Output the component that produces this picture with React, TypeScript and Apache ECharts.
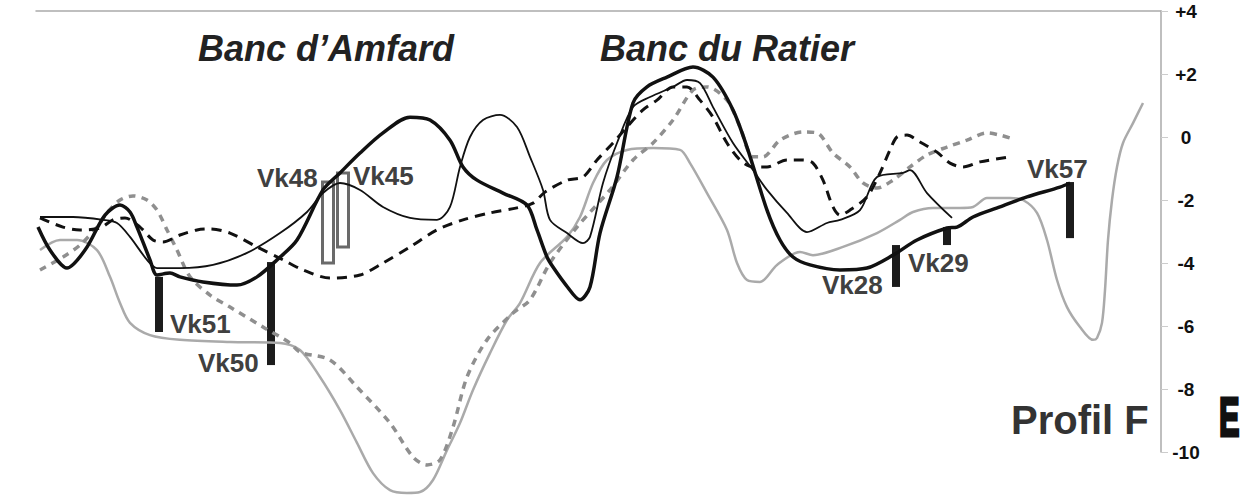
import React, { useEffect, useRef } from "react";
import * as echarts from "echarts";

// Distance along profile (arbitrary units, 0..1125) and elevation (m)
const thickBlack: [number, number][] = [
  [2, -2.86], [14, -3.59], [31, -4.16], [49, -3.59], [69, -2.48], [84, -2.16], [94, -2.38], [101, -2.86],
  [114, -3.9], [121, -4.38], [134, -4.32], [144, -4.44], [167, -4.6], [201, -4.7], [221, -4.44], [241, -3.9],
  [261, -3.27], [287, -1.68], [304, -1.14], [324, -0.51], [347, 0.13], [374, 0.63], [394, 0.54], [414, -0.1],
  [427, -0.95], [441, -1.37], [467, -1.78], [491, -2.16], [501, -2.95], [511, -3.81], [517, -4.13], [530, -4.7],
  [544, -5.17], [554, -4.76], [564, -3.05], [581, -1.27], [597, 1.08], [611, 1.59], [631, 1.9], [657, 2.22],
  [677, 1.9], [697, 0.86], [711, -0.32], [731, -2.32], [744, -3.27], [757, -3.81], [774, -4.06], [804, -4.22],
  [831, -4.16], [857, -3.75], [881, -3.27], [911, -2.89], [921, -2.86], [937, -2.54], [964, -2.22],
  [991, -1.9], [1024, -1.59], [1034, -1.46],
];

const thinBlack: [number, number][] = [
  [4, -2.54], [37, -2.54], [67, -2.63], [81, -2.73], [94, -3.17], [111, -3.9], [121, -4.16], [144, -4.16],
  [177, -4.06], [211, -3.68], [244, -3.05], [271, -2.38], [287, -1.78], [304, -1.46], [324, -1.68], [347, -2.22],
  [374, -2.57], [401, -2.63], [414, -2.22], [424, -0.95], [434, 0], [447, 0.54], [464, 0.7], [481, 0.32],
  [494, -0.63], [507, -1.68], [514, -2.63], [531, -3.05], [547, -3.37], [554, -3.17], [567, -1.46], [581, -0.19],
  [597, 0.95], [614, 1.27], [637, 1.59], [651, 1.81], [664, 1.71], [677, 0.95], [697, -0.19], [717, -1.05],
  [731, -1.68], [751, -2.41], [771, -3.02], [791, -2.73], [804, -2.63], [824, -2.32], [841, -1.27], [867, -1.14],
  [874, -1.05], [891, -1.78], [916, -2.57],
];

const dashedBlack: [number, number][] = [
  [4, -2.57], [27, -2.86], [44, -2.95], [64, -2.89], [77, -2.63], [89, -2.57], [104, -2.86], [117, -3.27],
  [127, -3.33], [144, -3.11], [161, -2.95], [174, -2.92], [194, -3.05], [221, -3.49], [247, -3.9], [267, -4.22],
  [294, -4.48], [324, -4.38], [347, -4.0], [374, -3.49], [401, -2.95], [427, -2.63], [454, -2.41], [481, -2.25],
  [497, -2.1], [509, -1.75], [531, -1.37], [547, -1.27], [561, -0.73], [577, -0.19], [591, 0.32], [607, 0.86],
  [621, 1.17], [637, 1.59], [651, 1.59], [664, 1.17], [677, 0.63], [691, -0.19], [704, -0.73], [717, -0.95],
  [731, -0.95], [751, -0.73], [767, -0.73], [777, -0.83], [787, -1.37], [797, -2.22], [804, -2.48], [814, -2.32],
  [831, -1.9], [844, -1.14], [854, -0.41], [861, 0], [871, 0.06], [884, -0.16], [901, -0.48], [914, -0.83],
  [927, -0.95], [944, -0.79], [974, -0.63],
];

const dashedGrey: [number, number][] = [
  [4, -4.22], [27, -3.81], [44, -3.43], [61, -2.86], [71, -2.41], [84, -2.0], [97, -1.87], [111, -2.0],
  [121, -2.32], [131, -2.95], [141, -3.59], [154, -4.44], [174, -5.02], [194, -5.4], [227, -6.03], [254, -6.54],
  [264, -6.83], [294, -7.08], [321, -7.94], [354, -9.08], [377, -10.16], [391, -10.41], [404, -10.25],
  [417, -9.21], [431, -7.62], [451, -6.44], [477, -5.59], [494, -5.17], [514, -4.0], [541, -2.86], [574, -1.68],
  [597, -0.73], [617, -0.19], [637, 0.54], [657, 1.49], [671, 1.59], [691, 1.17], [704, 0.32], [717, -0.63],
  [727, -0.63], [744, -0.1], [767, 0.16], [781, 0.13], [797, -0.51], [814, -0.95], [827, -1.46], [841, -1.62],
  [857, -1.37], [874, -0.95], [891, -0.57], [911, -0.32], [931, -0.1], [951, 0.13], [964, 0.06], [974, -0.03],
];

const solidGrey: [number, number][] = [
  [4, -3.59], [24, -3.27], [41, -3.27], [61, -3.59], [74, -4.44], [84, -5.27], [94, -5.9], [114, -6.29],
  [144, -6.44], [194, -6.51], [244, -6.54], [264, -6.76], [284, -7.62], [304, -8.67], [321, -9.71],
  [337, -10.67], [354, -11.21], [371, -11.3], [384, -11.27], [397, -10.89], [411, -9.94], [424, -9.08],
  [437, -8.03], [454, -6.86], [471, -5.81], [484, -5.27], [504, -4.0], [531, -3.17], [544, -2.54], [557, -1.46],
  [571, -0.73], [591, -0.41], [617, -0.35], [644, -0.41], [654, -0.83], [671, -1.78], [691, -2.95], [701, -4.0],
  [711, -4.54], [724, -4.6], [741, -4.06], [764, -3.65], [777, -3.75], [807, -3.49], [841, -3.05], [864, -2.63],
  [877, -2.38], [897, -2.25], [924, -2.25], [937, -2.22], [951, -1.94], [974, -1.94], [987, -2.0], [1001, -2.41],
  [1011, -3.27], [1021, -4.54], [1031, -5.4], [1044, -6.03], [1057, -6.44], [1061, -6.38], [1066, -5.9],
  [1069, -4.86], [1072, -3.27], [1076, -2.0], [1081, -0.95], [1087, -0.19], [1097, 0.44], [1107, 1.08],
];

// Cores: name, distance, top elevation, bottom elevation, hollow (1) or filled (0)
const coreNames = ["Vk51", "Vk50", "Vk48", "Vk45", "Vk28", "Vk29", "Vk57"];
const coreDist = [123, 235, 292, 307, 860, 911, 1034];
const coreTop = [-4.44, -3.97, -1.43, -1.14, -3.43, -2.86, -1.43];
const coreBottom = [-6.19, -7.24, -4.0, -3.49, -4.76, -3.43, -3.21];
const coreHollow = [0, 0, 1, 1, 0, 0, 0];

const yTicks = { min: -10, max: 4, step: 2 };

const FONT = 'Arial, "Liberation Sans", sans-serif';

export default function App() {
  const ref = useRef<HTMLDivElement>(null);
  useEffect(() => {
    if (!ref.current) return;
    const chart = echarts.init(ref.current, null, { renderer: "svg" });

    const coreData = coreNames.map((n, i) => [coreDist[i], coreTop[i], coreBottom[i], coreHollow[i]]);

    const labelPos: Record<string, [number, number]> = {
      Vk51: [170, 324], Vk50: [198, 363], Vk48: [257, 178], Vk45: [353, 176],
      Vk28: [822, 285], Vk29: [908, 263], Vk57: [1027, 169],
    };

    const lineBase = { type: "line" as const, showSymbol: false, clip: false, smooth: 0.3, z: 3 };

    chart.setOption({
      animation: false,
      backgroundColor: "#ffffff",
      grid: { left: 36, right: 79, top: 11, bottom: 43, outerBoundsMode: "none" },
      xAxis: {
        type: "value", min: 0, max: 1125, position: "top",
        axisLine: { show: true, onZero: false, lineStyle: { color: "#aaaaaa", width: 1.5 } },
        axisTick: { show: false }, axisLabel: { show: false }, splitLine: { show: false },
      },
      yAxis: {
        type: "value", position: "right", min: yTicks.min, max: yTicks.max, interval: yTicks.step,
        axisLine: { show: true, onZero: false, lineStyle: { color: "#aaaaaa", width: 1.5 } },
        axisTick: { show: true, length: 7, lineStyle: { color: "#cccccc" } },
        splitLine: { show: false },
        axisLabel: {
          margin: 25, align: "center", color: "#111", fontWeight: "bold", fontSize: 19, fontFamily: FONT,
          formatter: (v: number) => (v > 0 ? "+" + v : String(v)),
        },
      },
      series: [
        {
          type: "custom", z: 1, clip: false,
          renderItem: (params: any, api: any) => {
            const x = api.value(0);
            const p1 = api.coord([x, api.value(1)]);
            const p2 = api.coord([x, api.value(2)]);
            const hollow = api.value(3) === 1;
            const w = hollow ? 11 : 8;
            return {
              type: "rect",
              shape: { x: p1[0] - w / 2, y: p1[1], width: w, height: p2[1] - p1[1] },
              style: hollow ? { fill: "#ffffff", stroke: "#6a6a6a", lineWidth: 3 } : { fill: "#1c1c1c" },
            };
          },
          data: coreData,
        },
        { ...lineBase, name: "solid grey", data: solidGrey, lineStyle: { color: "#aaaaaa", width: 2.5 } },
        { ...lineBase, name: "dashed grey", data: dashedGrey, lineStyle: { color: "#8f8f8f", width: 3.5, type: [7, 6] } },
        { ...lineBase, name: "dashed black", data: dashedBlack, lineStyle: { color: "#111111", width: 3, type: [10, 7] } },
        { ...lineBase, name: "thin black", data: thinBlack, lineStyle: { color: "#111111", width: 1.8 } },
        { ...lineBase, name: "thick black", data: thickBlack, lineStyle: { color: "#111111", width: 3.5 } },
      ],
      graphic: [
        { type: "text", left: 198, top: 30, style: { text: "Banc d\u2019Amfard", font: `italic bold 36px ${FONT}`, fill: "#222" } },
        { type: "text", left: 600, top: 30, style: { text: "Banc du Ratier", font: `italic bold 36px ${FONT}`, fill: "#222" } },
        { type: "text", left: 1011, top: 400, style: { text: "Profil F", font: `bold 40px ${FONT}`, fill: "#333" } },
        {
          type: "text", x: 1219, y: 417, scaleX: 0.55,
          style: { text: "E", font: `bold 56px ${FONT}`, fill: "#111", stroke: "#111", lineWidth: 3, verticalAlign: "middle", align: "left" },
        },
        ...coreNames.map((n) => ({
          type: "text", x: labelPos[n][0], y: labelPos[n][1],
          style: { text: n, font: `bold 26px ${FONT}`, fill: "#404040", verticalAlign: "middle", align: "left" },
        })),
      ],
    });
    return () => chart.dispose();
  }, []);
  return <div ref={ref} style={{ width: 1240, height: 495, position: "absolute", left: 0, top: 0 }} />;
}
